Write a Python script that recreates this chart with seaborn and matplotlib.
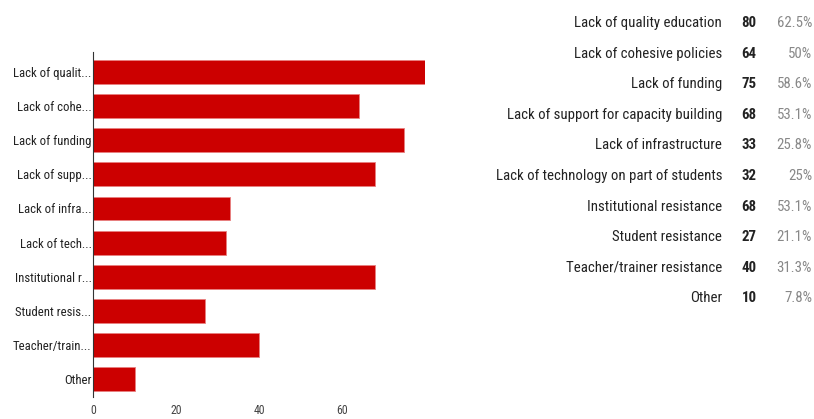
import pandas as pd
import matplotlib.pyplot as plt
import seaborn as sns
from matplotlib import font_manager

categories = ["Lack of quality education", "Lack of cohesive policies", "Lack of funding",
              "Lack of support for capacity building", "Lack of infrastructure",
              "Lack of technology on part of students", "Institutional resistance",
              "Student resistance", "Teacher/trainer resistance", "Other"]
short_labels = ["Lack of qualit...", "Lack of cohe...", "Lack of funding", "Lack of supp...",
                "Lack of infra...", "Lack of tech...", "Institutional r...", "Student resis...",
                "Teacher/train...", "Other"]
counts = [80, 64, 75, 68, 33, 32, 68, 27, 40, 10]
percents = ["62.5%", "50%", "58.6%", "53.1%", "25.8%", "25%", "53.1%", "21.1%", "31.3%", "7.8%"]
x_ticks = [0, 20, 40, 60]

sns.set_style("white")
installed = {f.name for f in font_manager.fontManager.ttflist}
narrow = [f for f in ["Liberation Sans Narrow", "Roboto Condensed", "Arial Narrow"] if f in installed]
plt.rcParams['font.family'] = narrow + ['Liberation Sans', 'DejaVu Sans']
table_size = 10.7 if narrow else 9.8
label_size = 9.2 if narrow else 8.5

df = pd.DataFrame({"label": short_labels, "count": counts})

fig = plt.figure(figsize=(8.14, 4.19), dpi=100)
ax = fig.add_axes([93 / 814, 1 - 397 / 419, (425 - 93) / 814, (397 - 52) / 419])
sns.barplot(data=df, x="count", y="label", orient="h", color="#cc0000", saturation=1,
            width=0.7, edgecolor="#e88080", linewidth=0.6, ax=ax)
ax.set_xlim(0, 80)
ax.set_ylim(9.53, -0.59)
ax.set_xticks(x_ticks)
ax.set_xlabel("")
ax.set_ylabel("")
ax.tick_params(axis="x", length=0, labelsize=8.5, labelcolor="#444444", pad=5)
ax.tick_params(axis="y", length=0, labelsize=label_size, labelcolor="#222222", pad=1)
for s in ["top", "right", "bottom"]:
    ax.spines[s].set_visible(False)
ax.spines["left"].set_color("#333333")
ax.spines["left"].set_linewidth(0.8)

# summary table on the right
for i, (name, n, p) in enumerate(zip(categories, counts, percents)):
    y = 1 - (23 + i * 30.6) / 419
    fig.text(722 / 814, y, name, ha="right", va="center", fontsize=table_size, color="#222222")
    fig.text(749 / 814, y, str(n), ha="center", va="center", fontsize=table_size,
             fontweight="bold", color="#222222")
    fig.text(812 / 814, y, p, ha="right", va="center", fontsize=table_size, color="#888888")

fig.savefig("out.png", dpi=100)
